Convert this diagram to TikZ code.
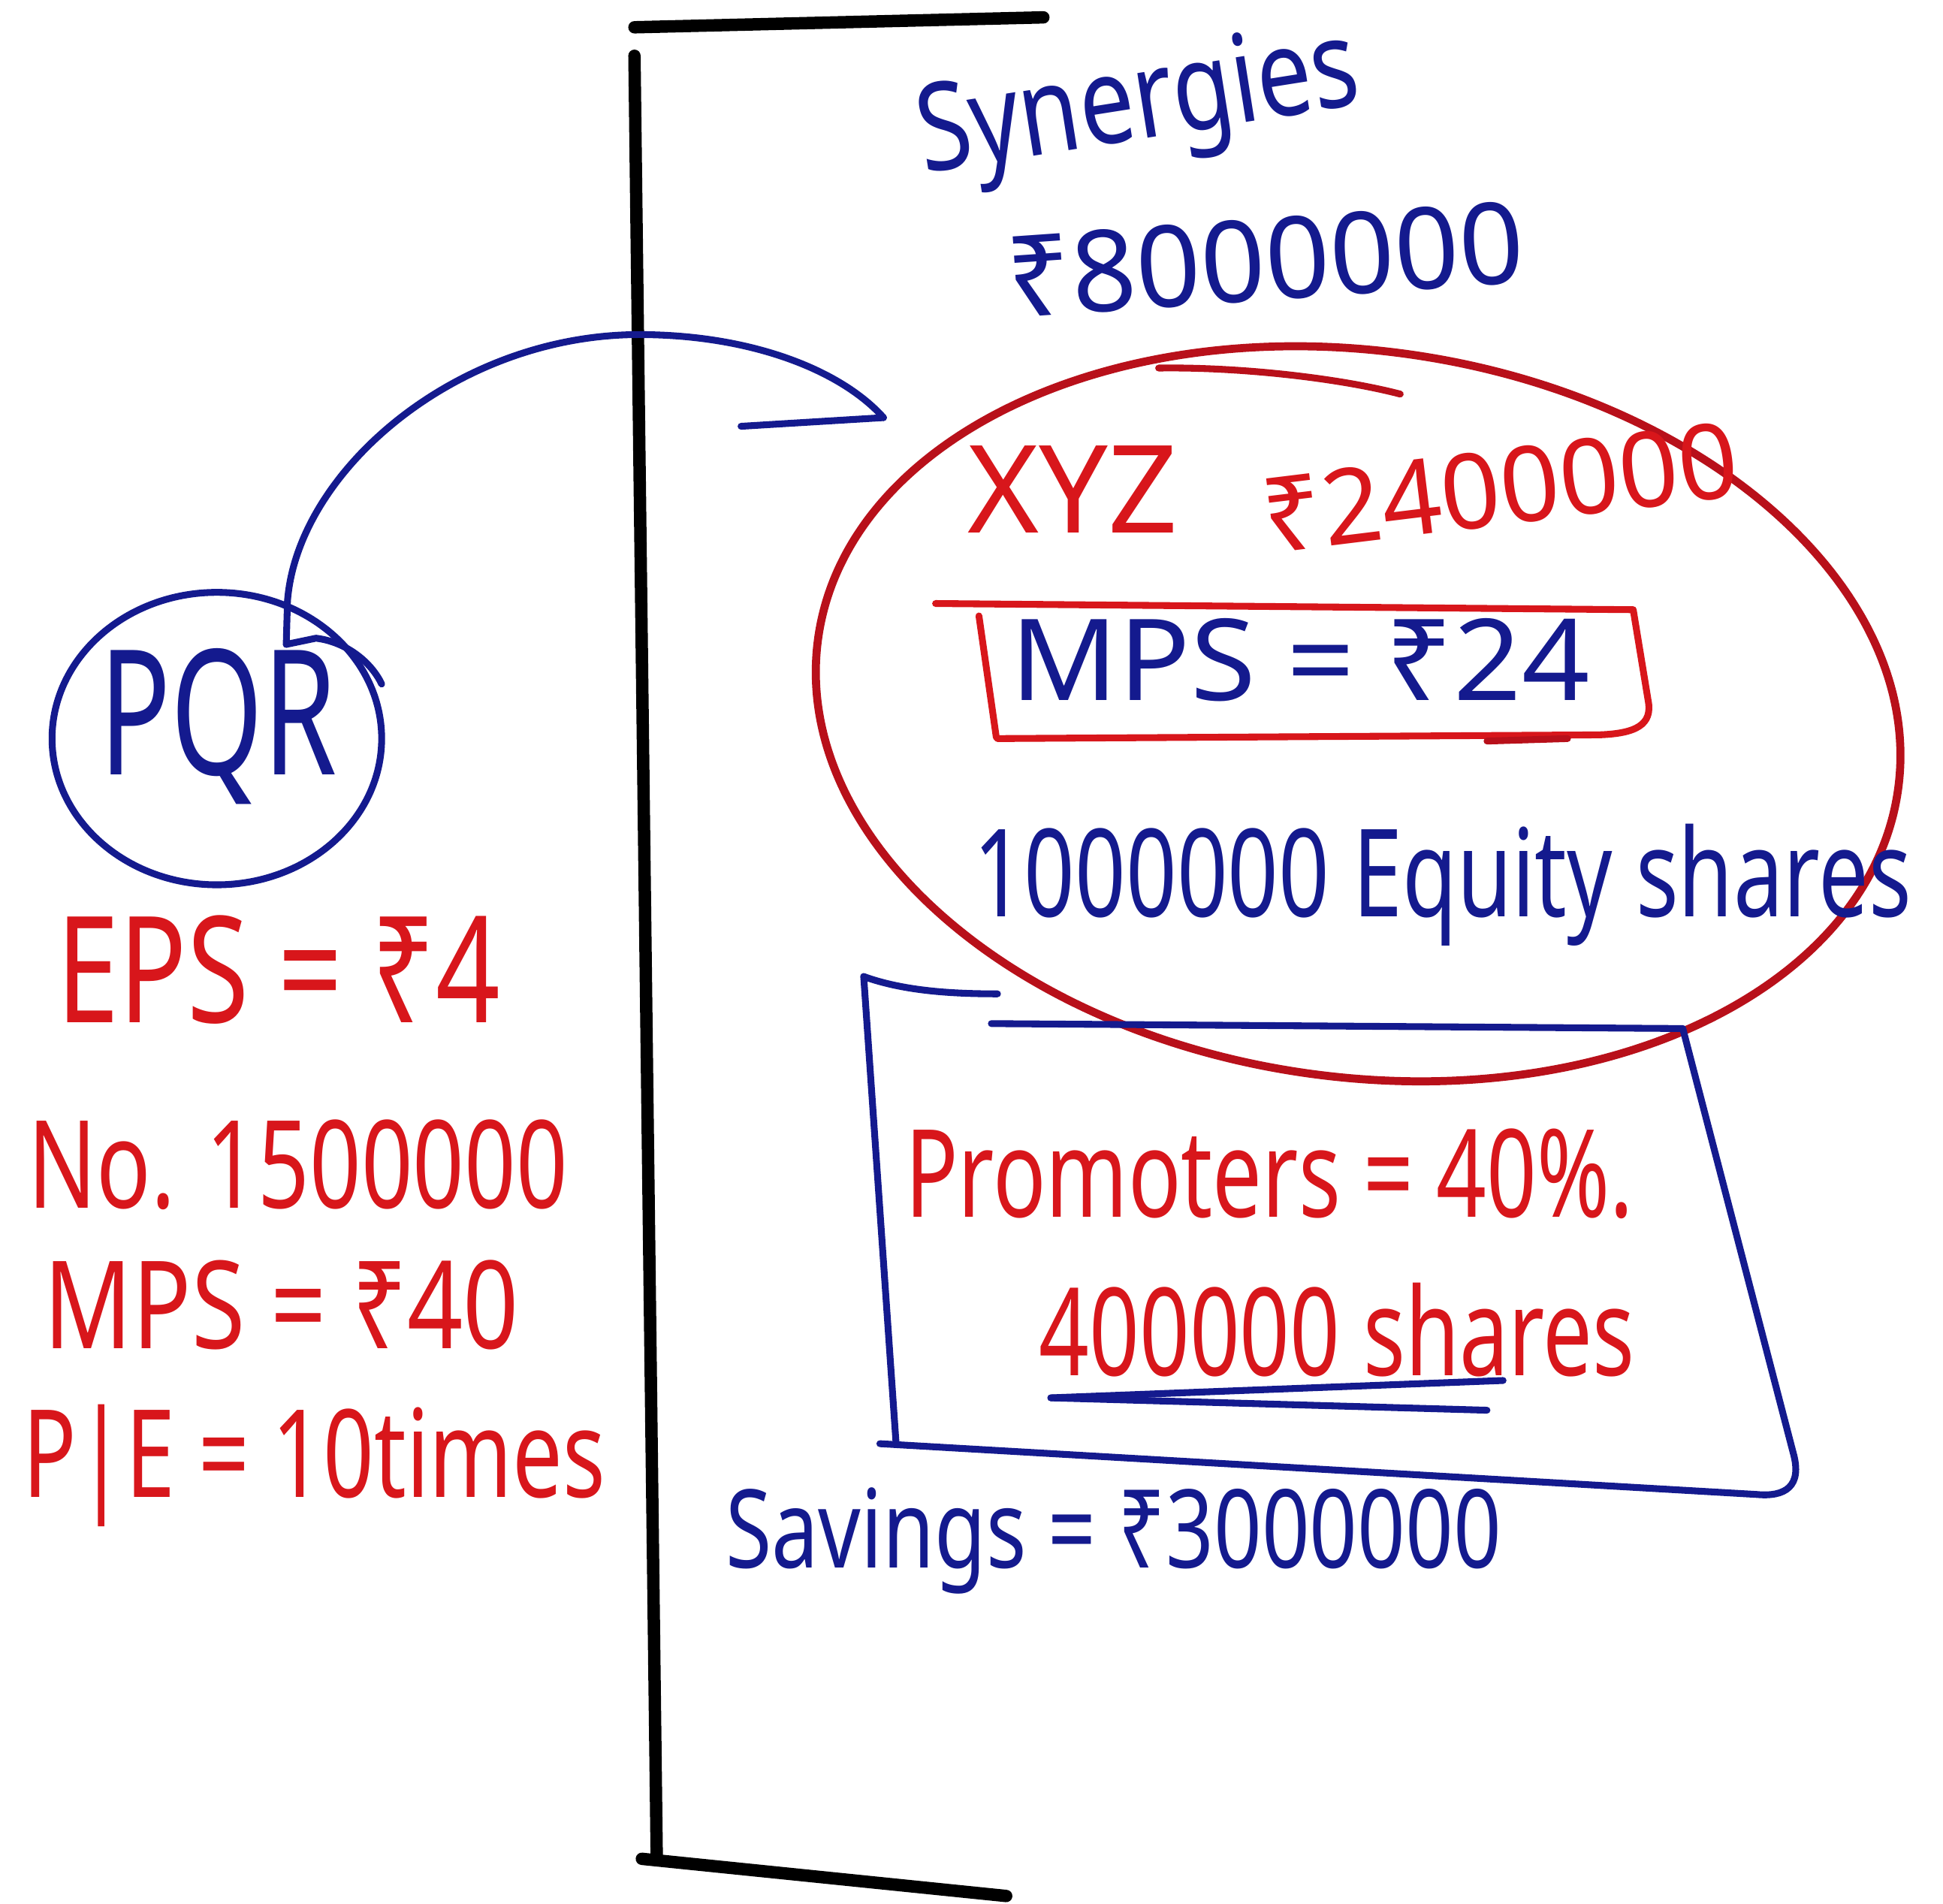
\documentclass[tikz,border=0pt]{standalone}
\usepackage{fontspec}
\setmainfont{Noto Sans}
\usetikzlibrary{shapes.geometric}
\definecolor{inkblue}{HTML}{141A8E}
\definecolor{inkred}{HTML}{D8161B}
\definecolor{ovalred}{HTML}{B8101A}
\begin{document}
\begin{tikzpicture}[x=0.1mm,y=-0.1mm,
  pen/.style={line width=0.55mm, line cap=round, line join=round},
  blueink/.style={pen, draw=inkblue},
  redink/.style={pen, draw=inkred},
  bar/.style={line width=1.0mm, line cap=round, draw=black},
  lbl/.style={inner sep=0pt, anchor=base west},
]
\useasboundingbox[fill=white] (0,0) rectangle (1568,1536);

% black bracket
\draw[bar] (512,22) -- (842,14);
\draw[bar] (512,45) -- (530,1500);
\draw[bar] (518,1500) -- (812,1530);

% PQR
\node[blueink, ellipse, minimum width=26.6mm, minimum height=23.6mm, inner sep=0pt] (pqr) at (175,596) {};
\node[text=inkblue, font=\fontsize{40}{40}\selectfont, xscale=0.68, inner sep=0pt] (pqrtext) at (176,586) {PQR};

% left column
\node[lbl, text=inkred, font=\fontsize{34}{34}\selectfont, xscale=0.76] (eps) at (45,825) {EPS = ₹4};
\node[lbl, text=inkred, font=\fontsize{28}{28}\selectfont, xscale=0.74] (num) at (22,975) {No. 1500000};
\node[lbl, text=inkred, font=\fontsize{28}{28}\selectfont, xscale=0.8] (mpsl) at (35,1088) {MPS = ₹40};
\node[lbl, text=inkred, font=\fontsize{28}{28}\selectfont, xscale=0.73] (pe) at (18,1208) {P|E = 10times};

% synergies
\node[lbl, text=inkblue, font=\fontsize{28}{28}\selectfont, rotate=9, xscale=0.8] (syn) at (745,140) {Synergies};
\node[lbl, text=inkblue, font=\fontsize{26}{26}\selectfont, rotate=4, xscale=1.0] (synv) at (814,257) {₹8000000};

% arrow
\coordinate (tail) at (231,520);
\coordinate (tip) at (713,337);
\coordinate (barb) at (598,344);
\draw[blueink] (tail) -- (232,485) .. controls (240,380) and (370,268) .. (520,270) .. controls (610,271) and (680,300) .. (tip);
\draw[blueink] (barb) -- (tip);
\draw[blueink] (tail) -- (255,515) .. controls (280,518) and (300,535) .. (308,552);

% XYZ oval
\node[ellipse, draw=ovalred, line width=0.65mm, rotate=-8, minimum width=88mm, minimum height=58.6mm, inner sep=0pt] (xyz) at (1096,576) {};
\draw[pen, draw=ovalred] (935,297) .. controls (1000,296) and (1080,305) .. (1130,318);
\node[lbl, text=inkred, font=\fontsize{28}{28}\selectfont] (xyzname) at (780,430) {XYZ};
\node[lbl, text=inkred, font=\fontsize{24}{24}\selectfont, rotate=7] (xyzval) at (1022,447) {₹2400000};

% MPS box
\draw[redink] (755,487) -- (1318,492) -- (1330,565) .. controls (1334,585) and (1320,592) .. (1290,593) -- (805,596);
\draw[redink] (790,497) -- (804,595);
\draw[pen, draw=ovalred] (1200,598) -- (1265,596);
\node[lbl, text=inkblue, font=\fontsize{26}{26}\selectfont, xscale=1.05] (mpsr) at (815,565) {MPS = ₹24};

\node[lbl, text=inkblue, font=\fontsize{28}{28}\selectfont, xscale=0.73] (eq) at (785,740) {1000000 Equity shares};

% promoters box
\draw[blueink] (697,788) .. controls (730,800) and (770,802) .. (805,802);
\draw[blueink] (697,788) -- (723,1163);
\draw[blueink] (800,826) -- (1358,830) -- (1447,1172) .. controls (1455,1200) and (1440,1208) .. (1418,1206) -- (710,1165);
\node[lbl, text=inkred, font=\fontsize{28}{28}\selectfont, xscale=0.72] (prom) at (730,982) {Promoters = 40\%.};
\node[lbl, text=inkred, font=\fontsize{28}{28}\selectfont, xscale=0.72] (psh) at (838,1110) {400000 shares};
\draw[blueink] (848,1128) -- (1213,1114);
\draw[blueink] (848,1128) -- (1200,1138);

% savings
\node[lbl, text=inkblue, font=\fontsize{25}{25}\selectfont, xscale=0.77] (sav) at (585,1265) {Savings = ₹3000000};
\end{tikzpicture}
\end{document}
